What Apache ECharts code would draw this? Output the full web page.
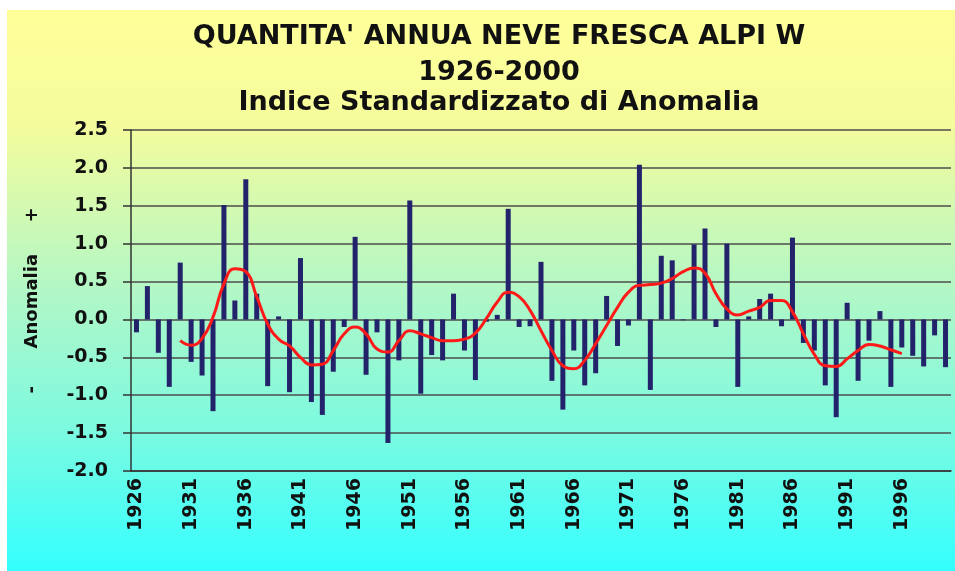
<!DOCTYPE html>
<html>
<head>
<meta charset="utf-8">
<script src="https://cdn.jsdelivr.net/npm/echarts@6/dist/echarts.min.js"></script>
<style>
html,body{margin:0;padding:0;background:#fff;}
#chart{width:955px;height:571px;}
</style>
</head>
<body>
<div id="chart"></div>
<script>
var titleLines = ["QUANTITA' ANNUA NEVE FRESCA ALPI W", "1926-2000", "Indice Standardizzato di Anomalia"];
var yAxisName = "-      Anomalia     +";

var years = [];
for (var y = 1926; y <= 2000; y++) years.push(String(y));

var anomaly = [
  -0.17, 0.44, -0.44, -0.89, 0.75, -0.56, -0.74, -1.21, 1.51, 0.25,
   1.85, 0.34, -0.88, 0.04, -0.96, 0.81, -1.09, -1.26, -0.69, -0.10,
   1.09, -0.73, -0.17, -1.63, -0.54, 1.57, -0.98, -0.47, -0.54, 0.34,
  -0.41, -0.80, -0.03, 0.06, 1.46, -0.10, -0.09, 0.76, -0.81, -1.19,
  -0.41, -0.87, -0.71, 0.31, -0.35, -0.08, 2.04, -0.93, 0.84, 0.78,
  -0.01, 0.99, 1.20, -0.10, 1.00, -0.89, 0.04, 0.27, 0.34, -0.09,
   1.08, -0.31, -0.41, -0.87, -1.29, 0.22, -0.81, -0.28, 0.11, -0.89,
  -0.37, -0.48, -0.62, -0.21, -0.63
];

var smoothed = [
  null, null, null, null,
  -0.28, -0.34, -0.25, 0.03, 0.47, 0.67, 0.63, 0.30, -0.06, -0.26,
  -0.35, -0.50, -0.60, -0.59, -0.41, -0.19, -0.10, -0.19, -0.39, -0.43,
  -0.28, -0.15, -0.19, -0.24, -0.28, -0.28, -0.26, -0.18, 0.01, 0.23,
   0.36, 0.30, 0.12, -0.15, -0.41, -0.61, -0.65, -0.54, -0.32, -0.08,
   0.16, 0.36, 0.45, 0.46, 0.48, 0.54, 0.63, 0.68, 0.61, 0.34,
   0.14, 0.06, 0.11, 0.16, 0.25, 0.25, 0.10, -0.19, -0.46, -0.61,
  -0.62, -0.52, -0.41, -0.33, -0.35, -0.40, -0.45,
  null, null, null, null
];

var chart = echarts.init(document.getElementById('chart'), null, {renderer: 'canvas'});
var FONT = 'DejaVu Sans';
var titleStyle = {fontFamily: FONT, fontWeight: 'bold', fontSize: 27, color: '#111'};

chart.setOption({
  animation: false,
  backgroundColor: '#ffffff',
  graphic: [{
    type: 'rect', z: -100, silent: true,
    shape: {x: 7, y: 10, width: 948, height: 561},
    style: {
      fill: new echarts.graphic.LinearGradient(0, 0, 0, 1, [
        {offset: 0, color: '#ffff99'},
        {offset: 0.2, color: '#f5fc9c'},
        {offset: 0.5, color: '#b2f7c6'},
        {offset: 0.75, color: '#7cfae0'},
        {offset: 1, color: '#33ffff'}
      ])
    }
  }],
  title: [
    {text: titleLines[0], left: 499, top: 23, textAlign: 'center', padding: 0, textStyle: titleStyle},
    {text: titleLines[1], left: 499, top: 59, textAlign: 'center', padding: 0, textStyle: titleStyle},
    {text: titleLines[2], left: 499, top: 89, textAlign: 'center', padding: 0, textStyle: titleStyle}
  ],
  grid: {left: 131, right: 4, top: 130, bottom: 100, containLabel: false},
  xAxis: {
    type: 'category',
    data: years,
    boundaryGap: true,
    axisLine: {onZero: false, lineStyle: {color: '#333', width: 1.5}},
    axisTick: {show: false},
    axisLabel: {
      interval: 4, rotate: 90, margin: 7,
      fontFamily: FONT, fontWeight: 'bold', fontSize: 19, color: '#111'
    },
    splitLine: {show: false}
  },
  yAxis: {
    type: 'value',
    min: -2, max: 2.5, interval: 0.5,
    name: yAxisName,
    nameLocation: 'middle',
    nameRotate: 90,
    nameGap: 90,
    nameTextStyle: {fontFamily: FONT, fontWeight: 'bold', fontSize: 18, color: '#111'},
    axisLine: {show: true, lineStyle: {color: '#333', width: 1.5}},
    axisTick: {show: true, length: 8, inside: false, lineStyle: {color: '#333', width: 1.5}},
    axisLabel: {
      margin: 23,
      fontFamily: FONT, fontWeight: 'bold', fontSize: 19, color: '#111',
      formatter: function (v) { return v.toFixed(1); }
    },
    splitLine: {show: true, lineStyle: {color: '#4d4d4d', width: 1.5}}
  },
  series: [
    {
      type: 'bar',
      data: anomaly,
      barWidth: 5,
      itemStyle: {color: '#23236b'},
      z: 2
    },
    {
      type: 'line',
      data: smoothed,
      smooth: true,
      showSymbol: false,
      symbol: 'none',
      connectNulls: false,
      lineStyle: {color: '#ff1a1a', width: 3},
      z: 3
    }
  ]
});
</script>
</body>
</html>
